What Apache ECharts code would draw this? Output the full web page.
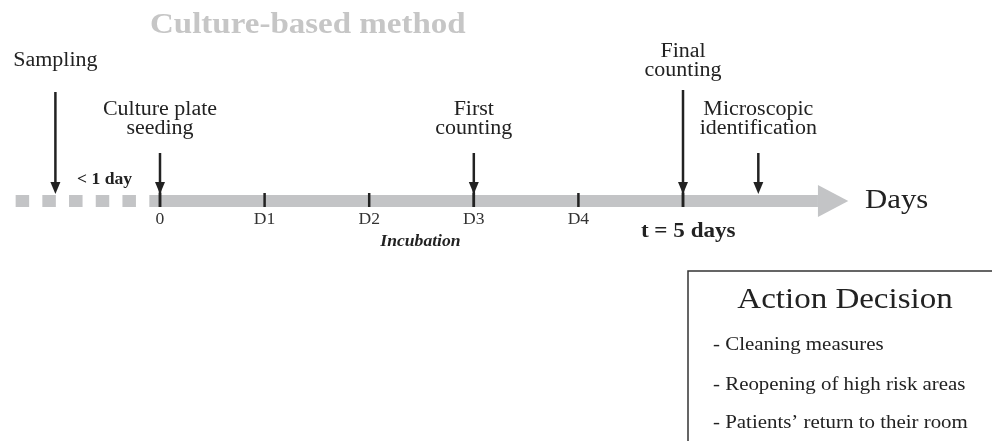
<!DOCTYPE html>
<html><head><meta charset="utf-8">
<script src="https://cdn.jsdelivr.net/npm/echarts@6/dist/echarts.min.js"></script>
<style>html,body{margin:0;padding:0;background:#fff}#c{width:992px;height:441px}</style>
</head><body><div id="c"></div>
<script>
// ---- data ----
const titleText = 'Culture-based method';
const eventNames = ['Sampling', 'Culture plate\nseeding', 'First\ncounting', 'Final\ncounting', 'Microscopic\nidentification'];
const eventDays = [-1.0, 0, 3, 5, 5.72];
const dayTicks = [0, 1, 2, 3, 4, 5];
const dayTickLabels = ['0', 'D1', 'D2', 'D3', 'D4', ''];
const dashedStartDay = -1.38;
const solidStartDay = -0.1;
const shaftEndDay = 6.29;
const arrowTipDay = 6.58;
const axisName = 'Days';
const axisNameDay = 6.74;
const preLabel = '< 1 day';
const preLabelDay = -0.53;
const phaseLabel = 'Incubation';
const phaseLabelDay = 2.49;
const endLabel = 't = 5 days';
const endLabelDay = 5.05;
const actionTitle = 'Action Decision';
const actionItems = ['- Cleaning measures', '- Reopening of high risk areas', '- Patients\u2019 return to their room'];

// ---- layout / style ----
const SERIF = '"Liberation Serif","DejaVu Serif","Times New Roman",serif';
const SX = 1.1;
const INK = '#222';
const BAR = '#c3c4c6';
const BAR_Y = 201, BAR_W = 12;
const eventArrowTop = [92, 153, 153, 90, 153];
const eventLabelY = [61, 110, 110, 52, 110];

function txt(x, y, text, font, opts) {
  opts = opts || {};
  return {
    type: 'text', x: x, y: y, scaleX: SX,
    style: {
      text: text, x: 0, y: 0, font: font,
      fill: opts.fill || INK,
      align: opts.align || 'center',
      verticalAlign: opts.va || 'middle',
      lineHeight: opts.lh || undefined
    },
    z2: 10
  };
}

const chart = echarts.init(document.getElementById('c'), null, {renderer: 'canvas'});
chart.setOption({
  backgroundColor: '#ffffff',
  animation: false,
  grid: {left: 0, right: 0, top: 0, bottom: 0},
  xAxis: {type: 'value', min: -1.5296, max: 7.954, show: false},
  yAxis: {type: 'value', min: 0, max: 441, inverse: true, show: false},
  graphic: [
    txt(150, 25, titleText, 'bold 30px ' + SERIF, {align: 'left', fill: '#c6c6c6'}),
    {type: 'rect', shape: {x: 688, y: 271, width: 330, height: 200},
     style: {fill: 'none', stroke: '#333', lineWidth: 1.5}},
    txt(845, 300, actionTitle, '30px ' + SERIF),
    txt(713, 345, actionItems[0], '19px ' + SERIF, {align: 'left'}),
    txt(713, 385, actionItems[1], '19px ' + SERIF, {align: 'left'}),
    txt(713, 423, actionItems[2], '19px ' + SERIF, {align: 'left'})
  ],
  series: [
    { // timeline bar
      type: 'custom',
      data: [[solidStartDay, 0]],
      renderItem: function (params, api) {
        const xd = api.coord([dashedStartDay, 0])[0];
        const xs = api.coord([solidStartDay, 0])[0];
        const xe = api.coord([shaftEndDay, 0])[0];
        const xt = api.coord([arrowTipDay, 0])[0];
        const xn = api.coord([axisNameDay, 0])[0];
        const xp = api.coord([preLabelDay, 0])[0];
        const xi = api.coord([phaseLabelDay, 0])[0];
        const x5 = api.coord([endLabelDay, 0])[0];
        return {
          type: 'group',
          children: [
            {type: 'line', shape: {x1: xd, y1: BAR_Y, x2: xs, y2: BAR_Y},
             style: {stroke: BAR, lineWidth: BAR_W, lineDash: [13.5, 13.2], lineCap: 'butt'}},
            {type: 'rect', shape: {x: xs, y: BAR_Y - BAR_W / 2, width: xe - xs, height: BAR_W},
             style: {fill: BAR}},
            {type: 'polygon', shape: {points: [[xe, BAR_Y - 16], [xt, BAR_Y], [xe, BAR_Y + 16]]},
             style: {fill: BAR}},
            txt(xn, 201, axisName, '28px ' + SERIF, {align: 'left'}),
            txt(xp, 180, preLabel, 'bold 16px ' + SERIF),
            txt(xi, 242, phaseLabel, 'italic bold 16px ' + SERIF),
            txt(x5, 232, endLabel, 'bold 21px ' + SERIF)
          ]
        };
      }
    },
    { // day ticks
      type: 'custom',
      data: dayTicks.map(d => [d, 0]),
      renderItem: function (params, api) {
        const i = params.dataIndex;
        const x = api.coord([api.value(0), 0])[0];
        return {
          type: 'group',
          children: [
            {type: 'line', shape: {x1: x, y1: 193, x2: x, y2: 207},
             style: {stroke: INK, lineWidth: 2.5}},
            txt(x, 220, dayTickLabels[i], '16px ' + SERIF, {fill: '#333'})
          ]
        };
      }
    },
    { // events
      type: 'custom',
      data: eventDays.map(d => [d, 0]),
      renderItem: function (params, api) {
        const i = params.dataIndex;
        const d = api.value(0);
        const x = api.coord([d, 0])[0];
        const onTick = dayTicks.indexOf(d) >= 0;
        const top = eventArrowTop[i];
        const tipY = 194;
        return {
          type: 'group',
          children: [
            {type: 'line', shape: {x1: x, y1: top, x2: x, y2: onTick ? 207 : tipY - 8},
             style: {stroke: INK, lineWidth: 2.5}},
            {type: 'polygon', shape: {points: [[x - 5, tipY - 12], [x + 5, tipY - 12], [x, tipY]]},
             style: {fill: INK}},
            txt(x, eventLabelY[i] - 9.5, eventNames[i], '20px ' + SERIF, {va: 'top', lh: 19})
          ]
        };
      }
    }
  ]
});
</script></body></html>
